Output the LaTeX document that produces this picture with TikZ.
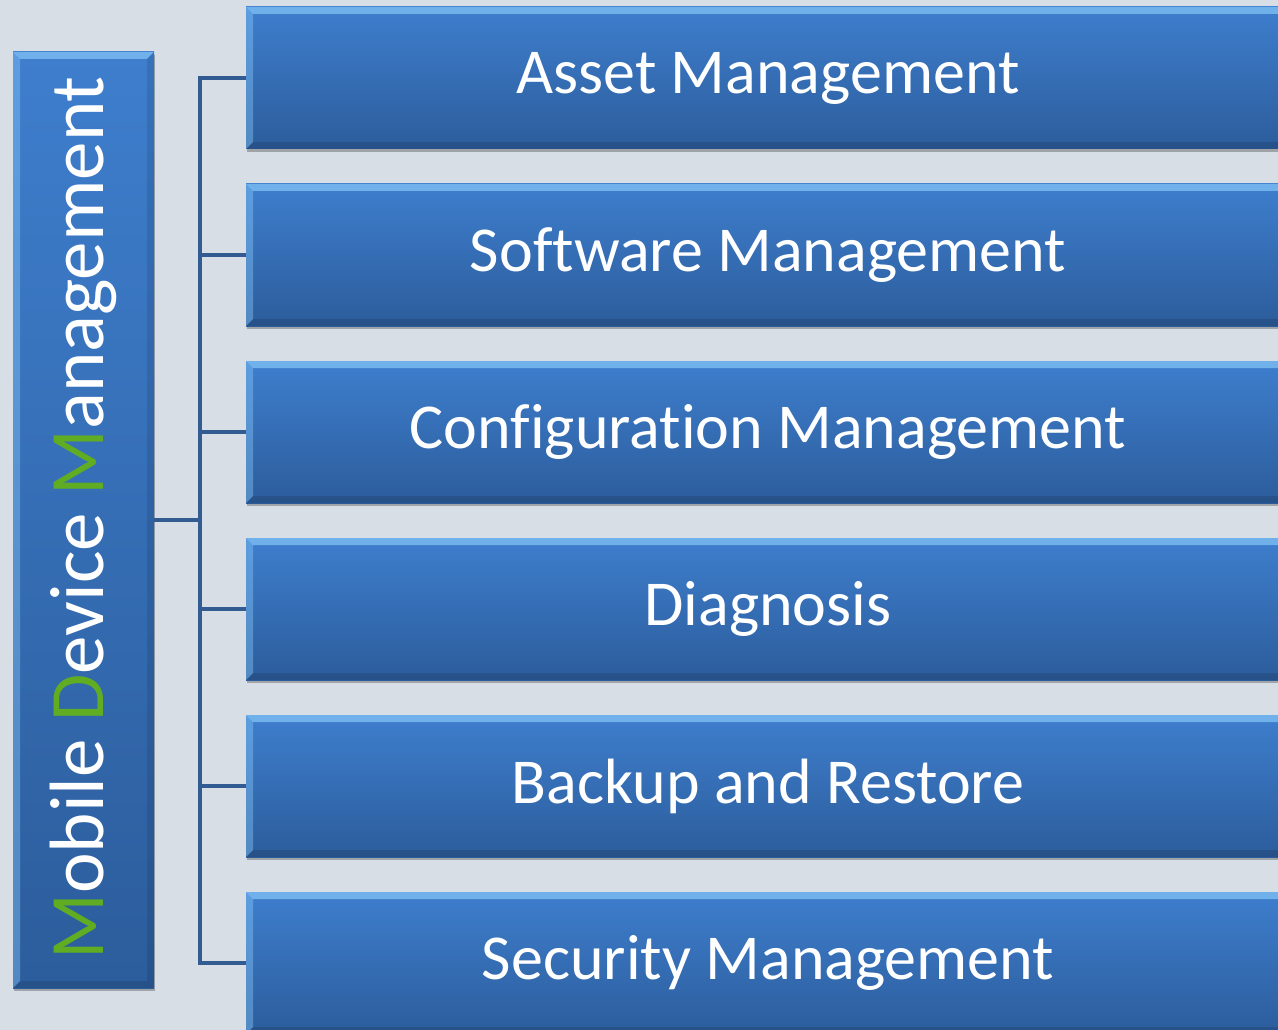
\documentclass[tikz,border=0pt]{standalone}
\usepackage{fontspec}
\setmainfont{Carlito}[Ligatures=NoCommon]
\usetikzlibrary{shadows}
\definecolor{bgblue}{RGB}{216,222,230}
\definecolor{boxtop}{RGB}{62,126,205}
\definecolor{boxbottom}{RGB}{44,93,156}
\definecolor{bevellight}{RGB}{140,205,252}
\definecolor{linkblue}{RGB}{50,92,145}
\definecolor{mdmgreen}{RGB}{96,172,34}

\begin{document}
\begin{tikzpicture}[x=1pt,y=-1pt,
    bevelbox/.style={draw=none,top color=boxtop,bottom color=boxbottom,text=white,inner sep=0pt,
        drop shadow={shadow xshift=1pt,shadow yshift=-3pt,opacity=0.4,fill=black!70},
        path picture={
            \fill[bevellight,opacity=0.65] (path picture bounding box.north west) -- (path picture bounding box.north east)
                -- ([xshift=-7pt,yshift=-7pt]path picture bounding box.north east) -- ([xshift=7pt,yshift=-7pt]path picture bounding box.north west) -- cycle;
            \fill[bevellight,opacity=0.4] (path picture bounding box.north west) -- ([xshift=7pt,yshift=-7pt]path picture bounding box.north west)
                -- ([xshift=7pt,yshift=7pt]path picture bounding box.south west) -- (path picture bounding box.south west) -- cycle;
            \fill[black,opacity=0.12] (path picture bounding box.south west) -- ([xshift=7pt,yshift=7pt]path picture bounding box.south west)
                -- ([xshift=-7pt,yshift=7pt]path picture bounding box.south east) -- (path picture bounding box.south east) -- cycle;
            \fill[black,opacity=0.1] (path picture bounding box.north east) -- ([xshift=-7pt,yshift=-7pt]path picture bounding box.north east)
                -- ([xshift=-7pt,yshift=7pt]path picture bounding box.south east) -- (path picture bounding box.south east) -- cycle;
        }},
    itembox/.style={bevelbox,minimum width=1044pt,minimum height=142pt,font=\fontsize{64}{70}\selectfont},
    link/.style={draw=linkblue,line width=3.5pt}]
    \fill[bgblue] (0,0) rectangle (1278,1030);
    \useasboundingbox (0,0) rectangle (1278,1030);
    \clip (0,0) rectangle (1278,1030);
    \node[bevelbox,minimum width=141pt,minimum height=936pt] (mdm) at (83.5,520) {};
    \node[rotate=90,text=white,inner sep=0pt,font=\fontsize{77}{80}\selectfont] (mdmlabel) at ([yshift=2pt]mdm.center)
        {{\color{mdmgreen}M}obile {\color{mdmgreen}D}evice {\color{mdmgreen}M}anagement};
    \foreach \name [count=\i] in {Asset Management,Software Management,Configuration Management,Diagnosis,Backup and Restore,Security Management}
        \node[itembox] (item\i) at (768,{78+177*(\i-1)}) {\name};
    \draw[link] (mdm.east) -- ++(46,0) coordinate (trunk);
    \foreach \i in {1,...,6}
        \draw[link] (trunk) |- (item\i.west);
\end{tikzpicture}
\end{document}
